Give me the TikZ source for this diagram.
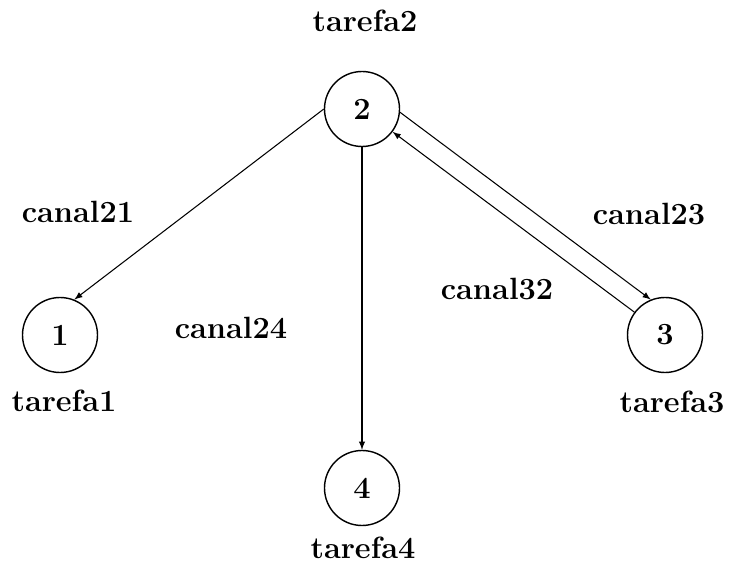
\documentclass[tikz,border=0pt]{standalone}
\usepackage{fontspec}
\usepackage{tikz}
\usetikzlibrary{arrows}

\begin{document}
\begin{tikzpicture} [
    task/.style={circle,draw=black,inner sep=0pt,minimum size=1.5cm, thick, font=\fontsize{17.5}{21}\selectfont\bfseries},
    taskName/.style={draw=none, font=\fontsize{17.5}{21}\selectfont\bfseries},
    channelName/.style={draw=none, font=\fontsize{17.5}{21}\selectfont\bfseries},
    arrow/.style={semithick, -latex, color=black}
]
    \useasboundingbox (0, 0) rectangle (14.58, -11.44);

    % tarefas
    \node[task] (n2) at (7.24, -2.18) {2};
    \node[taskName] (t2) at (7.30, -0.42) {tarefa2};
    
    \node[task] (n1) at (1.20, -6.70) {1};
    \node[taskName] (t1) at (1.28, -8.02) {tarefa1};
    
    \node[task] (n3) at (13.30, -6.70) {3};
    \node[taskName] (t3) at (13.44, -8.04) {tarefa3};
    
    \node[task] (n4) at (7.24, -9.76) {4};
    \node[taskName] (t4) at (7.26, -10.96) {tarefa4};
    
    % canais
    \draw [arrow] (n2.180) -- (n1.68);
    \node[channelName] (c21) at (1.56, -4.24) {canal21};
    
    \draw [arrow] (n2) -- (n4);
    \node[channelName] (c24) at (4.62, -6.56) {canal24};
    
    \draw [arrow] (n2.-5) -- (n3.112);
    \node[channelName] (c23) at (12.98, -4.28) {canal23};
    
    \draw [arrow] (n3) -- (n2);
    \node[channelName] (c32) at (9.94, -5.78) {canal32};
    
\end{tikzpicture}
\end{document}
